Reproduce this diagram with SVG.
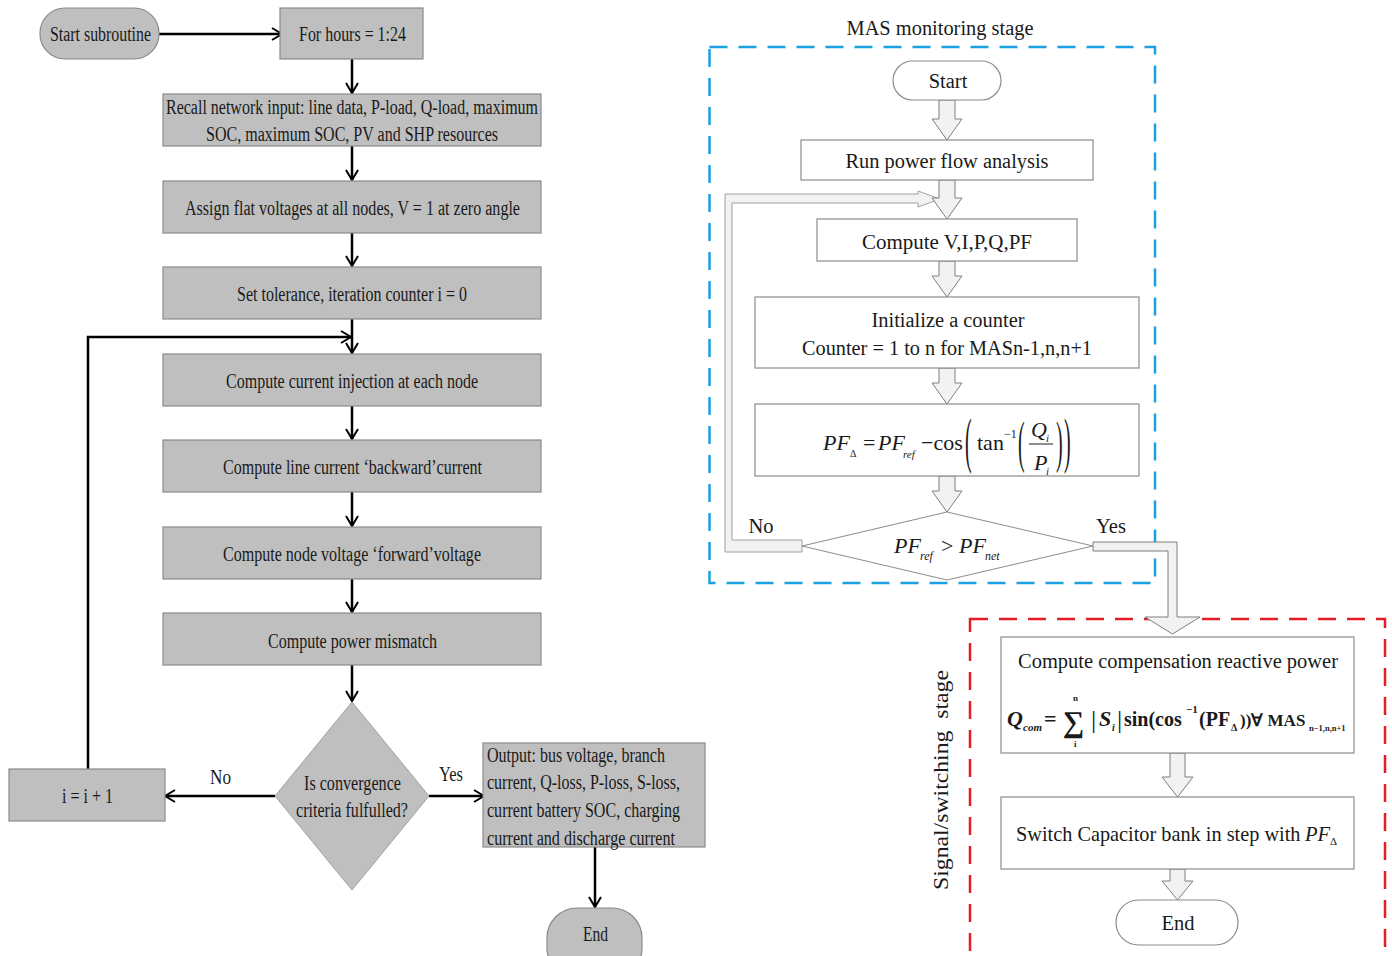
<svg xmlns="http://www.w3.org/2000/svg" width="1392" height="956" viewBox="0 0 1392 956">
<defs>
<marker id="ah" markerUnits="userSpaceOnUse" markerWidth="14" markerHeight="16" refX="11" refY="7" orient="auto">
<path d="M1,1 L11,7 L1,13" fill="none" stroke="#000" stroke-width="2"/>
</marker>
<style>
.gb{fill:#bfbfbf;stroke:#8a8a8a;stroke-width:1.2}
.wb{fill:#fff;stroke:#8c8c8c;stroke-width:1.2}
.ba{fill:#f2f2f2;stroke:#7f7f7f;stroke-width:1}
.cn{fill:none;stroke:#000;stroke-width:2.5}
.l{font-family:"Liberation Serif",serif;font-size:20px;fill:#1a1a1a}
.r{font-family:"Liberation Serif",serif;font-size:20.5px;fill:#1a1a1a;text-anchor:middle}
.m{font-family:"Liberation Serif",serif;font-size:22px;fill:#1a1a1a}
.it{font-style:italic}
.blue{fill:none;stroke:#1ba1e2;stroke-width:2.5;stroke-dasharray:18 11}
.red{fill:none;stroke:#e31e24;stroke-width:2.5;stroke-dasharray:18 11}
</style>
</defs>
<rect width="1392" height="956" fill="#fff"/>

<!-- stage frames -->
<g id="mas-stage">
<rect class="blue" x="709.5" y="47" width="445.5" height="536"/>
<text class="r" x="940" y="35" textLength="187" lengthAdjust="spacingAndGlyphs">MAS monitoring stage</text>
</g>
<g id="signal-stage">
<rect class="red" x="970" y="619" width="415" height="360"/>
<text class="r" transform="translate(948,780) rotate(-90)" style="white-space:pre;font-size:22px" textLength="220" lengthAdjust="spacingAndGlyphs">Signal/switching  stage</text>
</g>

<!-- connectors -->
<g id="connectors">
<line class="cn" x1="159" y1="34" x2="282" y2="34" marker-end="url(#ah)"/>
<line class="cn" x1="352" y1="59" x2="352" y2="93" marker-end="url(#ah)"/>
<line class="cn" x1="352" y1="146" x2="352" y2="180" marker-end="url(#ah)"/>
<line class="cn" x1="352" y1="232" x2="352" y2="266" marker-end="url(#ah)"/>
<line class="cn" x1="352" y1="319" x2="352" y2="353" marker-end="url(#ah)"/>
<line class="cn" x1="352" y1="406" x2="352" y2="439" marker-end="url(#ah)"/>
<line class="cn" x1="352" y1="492" x2="352" y2="526" marker-end="url(#ah)"/>
<line class="cn" x1="352" y1="579" x2="352" y2="612" marker-end="url(#ah)"/>
<line class="cn" x1="352" y1="665" x2="352" y2="701" marker-end="url(#ah)"/>
<line class="cn" x1="275" y1="796" x2="165" y2="796" marker-end="url(#ah)"/>
<line class="cn" x1="429" y1="796" x2="484" y2="796" marker-end="url(#ah)"/>
<line class="cn" x1="595" y1="847" x2="595" y2="907" marker-end="url(#ah)"/>
<polyline class="cn" points="88,769 88,337 351,337" marker-end="url(#ah)"/>
<text class="l" x="210" y="784" textLength="21" lengthAdjust="spacingAndGlyphs">No</text>
<text class="l" x="439" y="781" textLength="24" lengthAdjust="spacingAndGlyphs">Yes</text>

<path class="ba" d="M939,100 L955,100 L955,119 L962,119 L947,140 L932,119 L939,119 Z"/>
<path class="ba" d="M725,194 L918,194 L918,191 L940,199 L918,207 L918,203 L732,203 L732,540 L802,540 L802,552 L725,552 Z" style="stroke:#a0a0a0"/>
<path class="ba" d="M939,180 L955,180 L955,198 L962,198 L947,219 L932,198 L939,198 Z"/>
<path class="ba" d="M939,261 L955,261 L955,276 L962,276 L947,297 L932,276 L939,276 Z"/>
<path class="ba" d="M939,368 L955,368 L955,383 L962,383 L947,404 L932,383 L939,383 Z"/>
<path class="ba" d="M939,476 L955,476 L955,491 L962,491 L947,512 L932,491 L939,491 Z"/>
<path class="ba" d="M1093,542 L1177,542 L1177,617 L1200,617 L1172.5,634 L1145,617 L1168,617 L1168,551 L1093,551 Z"/>
<path class="ba" d="M1170,753 L1185,753 L1185,777 L1193,777 L1177.5,797 L1162,777 L1170,777 Z"/>
<path class="ba" d="M1170,869 L1185,869 L1185,881 L1193,881 L1177.5,900 L1162,881 L1170,881 Z"/>
<text class="r" x="761" y="533">No</text>
<text class="r" x="1111" y="533">Yes</text>
</g>

<!-- left flowchart nodes -->
<g id="start-sub"><rect class="gb" x="40" y="8" width="119" height="51" rx="25"/><text class="l" x="50" y="41" textLength="101" lengthAdjust="spacingAndGlyphs">Start subroutine</text></g>
<g id="for-hours"><rect class="gb" x="280" y="8" width="143" height="51"/><text class="l" x="299" y="41" textLength="107" lengthAdjust="spacingAndGlyphs">For hours = 1:24</text></g>
<g id="recall"><rect class="gb" x="163" y="94" width="378" height="52"/>
<text class="l" x="166" y="114" textLength="372" lengthAdjust="spacingAndGlyphs">Recall network input: line data, P-load, Q-load, maximum</text>
<text class="l" x="206" y="141" textLength="292" lengthAdjust="spacingAndGlyphs">SOC, maximum SOC, PV and SHP resources</text></g>
<g id="assign"><rect class="gb" x="163" y="181" width="378" height="52"/><text class="l" x="185" y="215" textLength="335" lengthAdjust="spacingAndGlyphs">Assign flat voltages at all nodes, V = 1 at zero angle</text></g>
<g id="tolerance"><rect class="gb" x="163" y="267" width="378" height="52"/><text class="l" x="237" y="301" textLength="230" lengthAdjust="spacingAndGlyphs">Set tolerance, iteration counter i = 0</text></g>
<g id="injection"><rect class="gb" x="163" y="354" width="378" height="52"/><text class="l" x="226" y="388" textLength="252" lengthAdjust="spacingAndGlyphs">Compute current injection at each node</text></g>
<g id="line-current"><rect class="gb" x="163" y="440" width="378" height="52"/><text class="l" x="223" y="474" textLength="259" lengthAdjust="spacingAndGlyphs">Compute line current ‘backward’current</text></g>
<g id="node-voltage"><rect class="gb" x="163" y="527" width="378" height="52"/><text class="l" x="223" y="561" textLength="258" lengthAdjust="spacingAndGlyphs">Compute node voltage ‘forward’voltage</text></g>
<g id="mismatch"><rect class="gb" x="163" y="613" width="378" height="52"/><text class="l" x="268" y="648" textLength="169" lengthAdjust="spacingAndGlyphs">Compute power mismatch</text></g>
<g id="convergence"><polygon points="352,702 429,796 352,890 275,796" fill="#bfbfbf" stroke="#a0a0a0" stroke-width="1"/>
<text class="l" x="304" y="790" textLength="97" lengthAdjust="spacingAndGlyphs">Is convergence</text>
<text class="l" x="296" y="817" textLength="112" lengthAdjust="spacingAndGlyphs">criteria fulfulled?</text></g>
<g id="increment"><rect class="gb" x="9" y="769" width="156" height="52"/><text class="l" x="62" y="803" textLength="51" lengthAdjust="spacingAndGlyphs">i = i + 1</text></g>
<g id="output"><rect class="gb" x="483" y="743" width="222" height="104"/>
<text class="l" x="487" y="762" textLength="178" lengthAdjust="spacingAndGlyphs">Output: bus voltage, branch</text>
<text class="l" x="487" y="789" textLength="193" lengthAdjust="spacingAndGlyphs">current, Q-loss, P-loss, S-loss,</text>
<text class="l" x="487" y="817" textLength="193" lengthAdjust="spacingAndGlyphs">current battery SOC, charging</text>
<text class="l" x="487" y="845" textLength="188" lengthAdjust="spacingAndGlyphs">current and discharge current</text></g>
<g id="end-left"><rect class="gb" x="547" y="908" width="95" height="70" rx="30"/><text class="l" x="583" y="941" textLength="25" lengthAdjust="spacingAndGlyphs">End</text></g>

<!-- right flowchart nodes -->
<g id="start"><rect class="wb" x="893" y="61" width="108" height="39" rx="19.5"/><text class="r" x="948" y="88">Start</text></g>
<g id="run-pf"><rect class="wb" x="801" y="140" width="292" height="40"/><text class="r" x="947" y="168" textLength="203" lengthAdjust="spacingAndGlyphs">Run power flow analysis</text></g>
<g id="compute-v"><rect class="wb" x="817" y="219" width="260" height="42"/><text class="r" x="947" y="249" textLength="170" lengthAdjust="spacingAndGlyphs">Compute V,I,P,Q,PF</text></g>
<g id="init-counter"><rect class="wb" x="755" y="297" width="384" height="71"/>
<text class="r" x="948" y="327" textLength="153" lengthAdjust="spacingAndGlyphs">Initialize a counter</text>
<text class="r" x="947" y="355" textLength="290" lengthAdjust="spacingAndGlyphs">Counter = 1 to n for MASn-1,n,n+1</text></g>
<g id="pf-delta"><rect class="wb" x="755" y="404" width="384" height="72"/>
<text class="m"><tspan x="823" y="450" class="it">PF</tspan><tspan x="850" y="457" font-size="10">Δ</tspan><tspan x="863" y="450">=</tspan><tspan x="878" y="450" class="it">PF</tspan><tspan x="903" y="458" font-size="11" class="it">ref</tspan><tspan x="921" y="450">−cos</tspan><tspan x="977" y="450">tan</tspan><tspan x="1004" y="438" font-size="12">−1</tspan></text>
<text class="m" style="font-size:20px" transform="translate(965,461) scale(1,3.1)">(</text>
<text class="m" style="font-size:20px" transform="translate(1018,461) scale(1,2.9)">(</text>
<text class="m" style="font-size:20px" transform="translate(1056,461) scale(1,2.9)">)</text>
<text class="m" style="font-size:20px" transform="translate(1064,461) scale(1,3.1)">)</text>
<text class="m"><tspan x="1031" y="437" class="it">Q</tspan><tspan x="1046" y="442" font-size="11" class="it">i</tspan><tspan x="1034" y="470" class="it">P</tspan><tspan x="1046" y="475" font-size="11" class="it">i</tspan></text>
<line x1="1029" y1="444" x2="1053" y2="444" stroke="#1a1a1a" stroke-width="1"/></g>
<g id="pf-compare"><polygon points="947,512 1093,546 947,580 802,546" fill="#fff" stroke="#8c8c8c" stroke-width="1"/>
<text class="m"><tspan x="894" y="553" class="it">PF</tspan><tspan x="920" y="560" font-size="12" class="it">ref</tspan><tspan x="941" y="553">&gt;</tspan><tspan x="959" y="553" class="it">PF</tspan><tspan x="985" y="560" font-size="12" class="it">net</tspan></text></g>

<g id="compensation"><rect class="wb" x="1001" y="637" width="353" height="116"/>
<text class="r" x="1178" y="668" textLength="320" lengthAdjust="spacingAndGlyphs">Compute compensation reactive power</text>
<text class="m" font-weight="bold"><tspan x="1007" y="726" class="it">Q</tspan><tspan x="1023" y="731" font-size="11" class="it">com</tspan><tspan x="1044" y="726">=</tspan><tspan x="1063" y="732" font-size="30">∑</tspan><tspan x="1073" y="701" font-size="9">n</tspan><tspan x="1074" y="747" font-size="9">i</tspan><tspan x="1091" y="728" font-size="26" font-weight="normal">|</tspan><tspan x="1099" y="726" class="it">S</tspan><tspan x="1112" y="731" font-size="10" class="it">i</tspan><tspan x="1117" y="728" font-size="26" font-weight="normal">|</tspan><tspan x="1124" y="726" font-size="20">sin(cos</tspan><tspan x="1186" y="713" font-size="11">−1</tspan><tspan x="1199" y="726" font-size="20">(PF</tspan><tspan x="1231" y="731" font-size="10">Δ</tspan><tspan x="1240" y="726" font-size="17">))∀ MAS</tspan><tspan x="1309" y="731" font-size="8.5">n−1,n,n+1</tspan></text></g>
<g id="switch-cap"><rect class="wb" x="1001" y="797" width="353" height="72"/>
<text class="m" style="font-size:20.3px"><tspan x="1016" y="841">Switch Capacitor bank in step with</tspan><tspan x="1305" class="it" font-size="20.5">PF</tspan><tspan font-size="11" dy="4">Δ</tspan></text></g>
<g id="end"><rect class="wb" x="1116" y="900" width="122" height="45" rx="22.5"/><text class="r" x="1178" y="930">End</text></g>
</svg>
